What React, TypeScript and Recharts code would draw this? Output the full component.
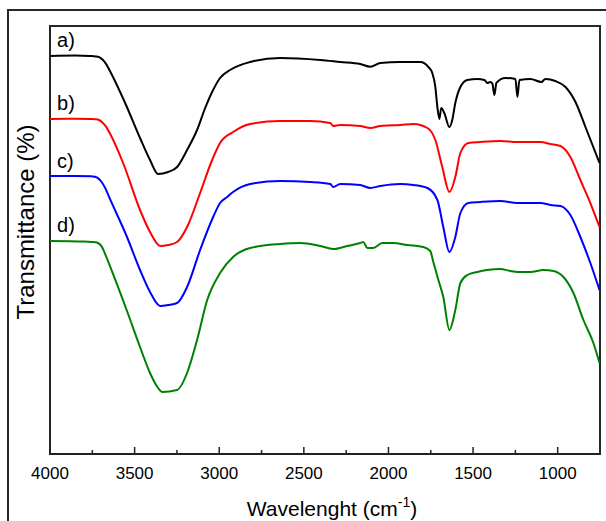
import { LineChart, Line, XAxis, YAxis, ReferenceArea, ReferenceDot } from "recharts";

// wavenumber ticks (major every 500, minor every 250)
const ticks = [4000, 3750, 3500, 3250, 3000, 2750, 2500, 2250, 2000, 1750, 1500, 1250, 1000];

// a) black
const aWn = [4000, 3850, 3763, 3730, 3710, 3690, 3670, 3645, 3556, 3468, 3409, 3361, 3302, 3249, 3190, 3131, 3083, 3042, 2995, 2936, 2817, 2640, 2403, 2285, 2167, 2107, 2048, 1930, 1812, 1764, 1741, 1723, 1711, 1699, 1688, 1670, 1640, 1623, 1605, 1575, 1534, 1475, 1433, 1416, 1398, 1386, 1374, 1362, 1309, 1250, 1238, 1226, 1161, 1096, 1073, 1014, 954, 895, 836, 753];
const aT = [99.5, 99.6, 99.5, 99.4, 99.2, 98.6, 97.6, 95.7, 87.75, 79, 73.5, 70, 70.5, 71.75, 76, 81, 86.5, 90.5, 94, 96, 98, 99, 98.5, 98, 97.5, 96.8, 97.75, 98, 98, 96.75, 95.25, 91.75, 86.75, 83.75, 86.5, 85.25, 81.75, 83.5, 87.75, 91.75, 93.5, 93.75, 93.5, 92.75, 93, 92.6, 89.75, 92.8, 94, 93.75, 89.25, 93.5, 93.75, 93, 93.75, 93.25, 91.75, 88, 81.75, 72.75];

// b) red
const bWn = [4000, 3850, 3760, 3730, 3710, 3690, 3670, 3645, 3568, 3468, 3409, 3349, 3302, 3249, 3190, 3113, 3042, 2995, 2918, 2817, 2640, 2462, 2344, 2326, 2285, 2167, 2107, 2048, 1930, 1853, 1770, 1723, 1682, 1640, 1605, 1575, 1528, 1457, 1339, 1238, 1102, 1043, 984, 925, 866, 807, 753];
const bT = [83.75, 83.8, 83.75, 83.7, 83.5, 82.9, 81.9, 80.05, 72.75, 61, 55.5, 52, 52.25, 53, 56.75, 65.25, 73.5, 77.75, 80.5, 82.5, 83.25, 83.25, 82.75, 82, 82.25, 82, 81.5, 82, 82.25, 82.5, 81.5, 78.5, 71.75, 65.5, 69.25, 75.25, 77.75, 78, 78.25, 78, 78, 77.5, 77, 74.25, 68.5, 62.75, 56.75];

// c) blue
const cWn = [4000, 3850, 3760, 3735, 3715, 3695, 3675, 3645, 3545, 3468, 3409, 3349, 3302, 3249, 3190, 3113, 3036, 2995, 2953, 2918, 2817, 2640, 2462, 2344, 2326, 2285, 2167, 2107, 2048, 1930, 1853, 1770, 1711, 1676, 1640, 1605, 1575, 1528, 1457, 1339, 1238, 1102, 1043, 984, 925, 866, 807, 753];
const cT = [69.5, 69.5, 69.45, 69.3, 68.9, 68.0, 66.6, 63.7, 54.25, 46, 40.5, 37, 37.25, 37.75, 41.75, 51, 59.25, 62.75, 64.25, 65.5, 67.5, 68.25, 68, 67.5, 66.75, 67.5, 67.25, 66.5, 67, 67.5, 67.25, 66.5, 63.5, 56.75, 50.5, 54.25, 60.25, 62.75, 63, 63.25, 62.75, 62.75, 62.25, 62, 59.75, 54.25, 47.75, 41];

// d) green
const dWn = [4000, 3800, 3750, 3730, 3710, 3695, 3680, 3660, 3645, 3545, 3468, 3409, 3361, 3338, 3249, 3190, 3131, 3071, 2995, 2918, 2817, 2640, 2522, 2403, 2326, 2244, 2167, 2149, 2125, 2090, 2037, 1971, 1889, 1794, 1753, 1735, 1705, 1676, 1640, 1605, 1575, 1534, 1475, 1416, 1339, 1280, 1238, 1161, 1084, 1025, 966, 907, 848, 789, 753];
const dT = [53.25, 53.1, 53.0, 52.95, 52.6, 51.9, 50.6, 48.5, 46.9, 35.75, 26.75, 20.25, 16.5, 15.5, 16, 20.25, 28.5, 38.5, 45.25, 49.25, 51.5, 52.5, 52.75, 52, 51.25, 52, 52.75, 53, 51.5, 51.5, 52.75, 52.75, 52.25, 51.75, 50.75, 48, 43.5, 39.25, 31, 36, 42.75, 44.75, 45.5, 46, 46.25, 45.75, 45.5, 45.5, 46, 45.75, 44.25, 40.25, 33.5, 27.75, 22.75];

const labels = ["a)", "b)", "c)", "d)"];
const labelT = [103.5, 87.9, 73.4, 57.3];
const colors = ["#000000", "#ff0000", "#0000ff", "#008000"];

const toPoints = (wn: number[], t: number[]) => wn.map((w, i) => ({ wn: w, t: t[i] }));
const series = [toPoints(aWn, aT), toPoints(bWn, bT), toPoints(cWn, cT), toPoints(dWn, dT)];

const FONT = "'Liberation Sans', Arial, Helvetica, sans-serif";

function Tick(props: any) {
  const { x, y, payload } = props;
  const major = payload.value % 500 === 0;
  return (
    <g>
      <line x1={x} x2={x} y1={y} y2={y - (major ? 7 : 4)} stroke="#222" strokeWidth={1.5} />
      {major && (
        <text x={x} y={y + 25} textAnchor="middle" fontSize={17} fill="#000" fontFamily={FONT}>
          {payload.value}
        </text>
      )}
    </g>
  );
}

export default function App() {
  return (
    <div style={{ position: "relative", width: 606, height: 521, background: "#fff", overflow: "hidden" }}>
      <style>{`body{margin:0;overflow:hidden}`}</style>
      <div
        style={{
          position: "absolute",
          left: 7,
          top: 9,
          width: 599,
          height: 512,
          borderLeft: "2px solid #262626",
          borderTop: "2px solid #262626",
          boxSizing: "border-box",
        }}
      />
      <div style={{ position: "absolute", left: 0, top: 0 }}>
        <LineChart width={606} height={521} margin={{ top: 26, right: 6, bottom: 0, left: 50 }}>
          <XAxis
            type="number"
            dataKey="wn"
            domain={[750, 4000]}
            reversed
            allowDataOverflow
            ticks={ticks}
            interval={0}
            tickSize={0}
            tickMargin={0}
            tickLine={false}
            tick={<Tick />}
            height={67}
            axisLine={{ stroke: "#222", strokeWidth: 2 }}
          />
          <YAxis type="number" domain={[0, 107]} hide allowDataOverflow />
          <ReferenceArea
            x1={4000}
            x2={750}
            y1={0}
            y2={107}
            fill="none"
            stroke="#262626"
            strokeWidth={2}
            ifOverflow="visible"
          />
          {series.map((pts, i) => (
            <Line
              key={labels[i]}
              data={pts}
              dataKey="t"
              type="monotone"
              stroke={colors[i]}
              strokeWidth={2}
              dot={false}
              isAnimationActive={false}
            />
          ))}
          {labels.map((lab, i) => (
            <ReferenceDot
              key={"lab" + i}
              x={3988}
              y={labelT[i]}
              r={0}
              fill="none"
              stroke="none"
              label={{ value: lab, position: "right", fill: "#000", fontSize: 20, fontFamily: FONT }}
            />
          ))}
        </LineChart>
      </div>
      <svg width={606} height={521} style={{ position: "absolute", left: 0, top: 0, pointerEvents: "none" }}>
        <text
          x={34}
          y={222}
          transform="rotate(-90 34 222)"
          textAnchor="middle"
          fontSize={24}
          fill="#000"
          fontFamily={FONT}
        >
          Transmittance (%)
        </text>
        <text x={332} y={516} textAnchor="middle" fontSize={21} fill="#000" fontFamily={FONT}>
          Wavelenght (cm
          <tspan dy={-9} fontSize={14}>
            -1
          </tspan>
          <tspan dy={9}>)</tspan>
        </text>
      </svg>
    </div>
  );
}
